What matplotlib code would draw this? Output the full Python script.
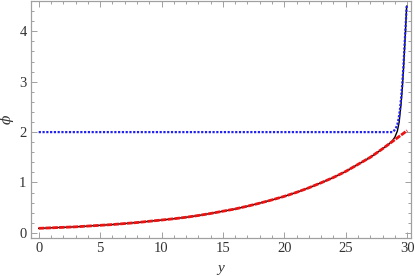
import matplotlib
matplotlib.use("Agg")
import matplotlib.pyplot as plt
from matplotlib.ticker import MultipleLocator

# Red dashed curve (approximate solution)
y_red = [0, 1, 2, 3, 4, 5, 6, 7, 8, 9, 10, 11, 12, 13, 14, 15, 16, 17, 18, 19,
         20, 21, 22, 23, 24, 25, 26, 27, 28, 29, 30]
phi_red = [0.09, 0.10, 0.11, 0.12, 0.135, 0.15, 0.165, 0.185, 0.205, 0.23, 0.255,
           0.28, 0.31, 0.345, 0.385, 0.43, 0.475, 0.53, 0.59, 0.655, 0.725,
           0.805, 0.895, 0.995, 1.10, 1.22, 1.36, 1.50, 1.67, 1.85, 2.03]

# Black solid curve (exact solution)
y_black = [0, 1, 2, 3, 4, 5, 6, 7, 8, 9, 10, 11, 12, 13, 14, 15, 16, 17, 18, 19,
           20, 21, 22, 23, 24, 25, 26, 27, 28, 28.5, 28.8, 29.0, 29.2, 29.35,
           29.5, 29.6, 29.7, 29.8, 29.9, 29.96]
phi_black = [0.09, 0.10, 0.11, 0.12, 0.135, 0.15, 0.165, 0.185, 0.205, 0.23, 0.255,
             0.28, 0.31, 0.345, 0.385, 0.43, 0.475, 0.53, 0.59, 0.655, 0.725,
             0.805, 0.895, 0.995, 1.10, 1.22, 1.36, 1.50, 1.67, 1.76, 1.83,
             1.90, 2.02, 2.20, 2.55, 2.85, 3.25, 3.70, 4.20, 4.50]

# Blue dotted curve
y_blue = [0, 5, 10, 15, 20, 25, 28, 28.8, 28.9, 29.0, 29.1, 29.2, 29.3, 29.4,
          29.5, 29.6, 29.7, 29.8, 29.9, 29.96]
phi_blue = [2.0, 2.0, 2.0, 2.0, 2.0, 2.0, 2.0, 2.0, 2.02, 2.05, 2.09, 2.15, 2.26,
            2.42, 2.66, 2.95, 3.32, 3.78, 4.22, 4.50]

xticks = [0, 5, 10, 15, 20, 25, 30]
yticks = [0, 1, 2, 3, 4]

fig = plt.figure(figsize=(4.15, 2.76), dpi=100)
ax = fig.add_axes([0.074, 0.138, 0.916, 0.858])

ax.plot(y_black, phi_black, color="black", lw=1.0, zorder=2)
ax.plot(y_red, phi_red, color="#ee1111", lw=2.0, ls=(0, (2.0, 0.45)), zorder=3)
ax.plot(y_blue, phi_blue, color="#2222ee", lw=1.6, ls=(0, (1.0, 0.7)), zorder=4)

ax.set_xlim(-0.65, 30.3)
ax.set_ylim(-0.1, 4.6)
ax.set_xticks(xticks)
ax.set_yticks(yticks)
ax.xaxis.set_minor_locator(MultipleLocator(1))
ax.yaxis.set_minor_locator(MultipleLocator(0.2))

frame_col = "#a0a0a0"
for s in ax.spines.values():
    s.set_color(frame_col)
    s.set_linewidth(0.9)
ax.tick_params(which="both", direction="in", top=True, right=True,
               color=frame_col, width=0.7)
ax.tick_params(which="major", length=4.0)
ax.tick_params(which="minor", length=2.2)
ax.tick_params(labelsize=10.5, labelcolor="#333333", pad=3)
for lab in ax.get_xticklabels() + ax.get_yticklabels():
    lab.set_family("Liberation Serif")

ax.set_xlabel("y", fontfamily="Liberation Serif", fontstyle="italic",
              fontsize=11, color="#333333", labelpad=5)
ax.set_ylabel("ϕ", fontfamily="DejaVu Serif", fontstyle="italic",
              fontsize=10, color="#333333", labelpad=4)

fig.savefig("out.png", dpi=100)
